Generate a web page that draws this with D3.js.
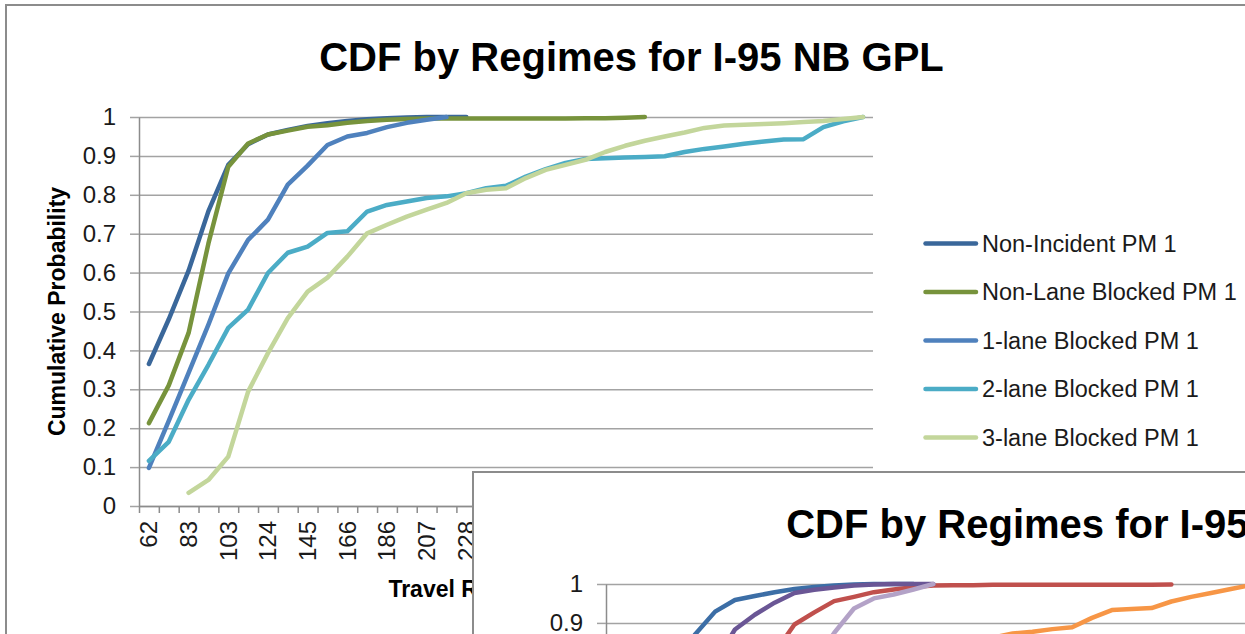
<!DOCTYPE html>
<html>
<head>
<meta charset="utf-8">
<script src="https://cdn.jsdelivr.net/npm/d3@7"></script>
<style>
  html, body { margin: 0; padding: 0; background: #fff; }
  svg { display: block; }
</style>
</head>
<body>
<svg id="chart" width="1245" height="634"></svg>
<script>
// Travel rate categories (x axis)
const travelRates = [62, 72, 83, 93, 103, 114, 124, 134, 145, 155, 166, 176, 186, 197, 207, 217, 228, 238,
  248, 259, 269, 279, 290, 300, 310, 321, 331, 341, 352, 362, 373, 383, 393, 404, 414, 424, 435];

const yTickValues = [0, 0.1, 0.2, 0.3, 0.4, 0.5, 0.6, 0.7, 0.8, 0.9, 1];
const yTickLabels = ["0", "0.1", "0.2", "0.3", "0.4", "0.5", "0.6", "0.7", "0.8", "0.9", "1"];

// PM regimes
const pmNames = ["Non-Incident PM 1", "Non-Lane Blocked PM 1", "1-lane Blocked PM 1", "2-lane Blocked PM 1", "3-lane Blocked PM 1"];
const pmColors = ["#3A679A", "#77933C", "#4F81BD", "#4BACC6", "#C3D69B"];

const nonIncidentPM = [0.365, 0.48, 0.605, 0.758, 0.877, 0.93, 0.955, 0.967, 0.977, 0.984, 0.99, 0.994, 0.997, 0.999, 1, 1, 1];
const nonLaneBlockedPM = [0.213, 0.31, 0.445, 0.675, 0.872, 0.932, 0.955, 0.965, 0.975, 0.979, 0.985, 0.99, 0.993,
  0.995, 0.996, 0.996, 0.996, 0.996, 0.996, 0.996, 0.996, 0.996, 0.997, 0.997, 0.998, 1];
const oneLaneBlockedPM = [0.098, 0.219, 0.342, 0.466, 0.598, 0.684, 0.736, 0.826, 0.875, 0.928, 0.95, 0.959, 0.974,
  0.985, 0.993, 1];
const twoLaneBlockedPM = [0.116, 0.165, 0.273, 0.363, 0.458, 0.505, 0.599, 0.651, 0.667, 0.702, 0.706, 0.757, 0.774,
  0.783, 0.792, 0.796, 0.804, 0.817, 0.823, 0.847, 0.866, 0.882, 0.892, 0.894, 0.896, 0.897, 0.899, 0.91, 0.918,
  0.924, 0.931, 0.937, 0.942, 0.943, 0.974, 0.989, 1];
const threeLaneBlockedPM = [null, null, 0.034, 0.067, 0.127, 0.294, 0.393, 0.483, 0.551, 0.587, 0.641, 0.701, 0.723,
  0.744, 0.762, 0.779, 0.804, 0.813, 0.817, 0.843, 0.864, 0.877, 0.89, 0.91, 0.926, 0.939, 0.95, 0.96, 0.972,
  0.978, 0.98, 0.982, 0.984, 0.987, 0.99, 0.995, 1];

// AM regimes (second chart)
const amNames = ["Non-Incident AM 1", "Non-Lane Blocked AM 1", "1-lane Blocked AM 1", "2-lane Blocked AM 1", "3-lane Blocked AM 1"];
const amColors = ["#3C6EA6", "#C0504D", "#6A5695", "#B3A2C7", "#F79646"];

const nonIncidentAM = [null, null, null, 0.80, 0.871, 0.929, 0.959, 0.969, 0.979, 0.987, 0.992, 0.996, 0.999, 1, 1, 1];
const nonLaneBlockedAM = [null, null, null, null, null, null, null, null, 0.823, 0.896, 0.927, 0.956, 0.967, 0.979,
  0.986, 0.992, 0.996, 0.997, 0.997, 0.998, 0.998, 0.998, 0.998, 0.998, 0.998, 0.998, 0.998, 0.998, 0.999];
const oneLaneBlockedAM = [null, null, null, null, null, 0.80, 0.883, 0.921, 0.952, 0.977, 0.985, 0.991, 0.996,
  0.999, 1, 1, 1];
const twoLaneBlockedAM = [null, null, null, null, null, null, null, null, null, null, 0.80, 0.874, 0.937, 0.963,
  0.973, 0.986, 1];
const threeLaneBlockedAM = [null, null, null, null, null, null, null, null, null, null, null, null, null, null,
  null, null, null, null, null, 0.862, 0.873, 0.877, 0.884, 0.889, 0.913, 0.933, 0.936, 0.938, 0.955, 0.967,
  0.977, 0.987, 0.997, 1];

const FONT = "'Liberation Sans', Arial, sans-serif";
const TEXT = "#1a1a1a";
const plot = { left: 139, right: 873, top: 117, bottom: 506 };

function drawChart(root, o) {
  // chart frame
  root.append("rect")
    .attr("x", 6).attr("y", 5).attr("width", 1500).attr("height", 800)
    .attr("fill", "#fff").attr("stroke", "#8c8c8c").attr("stroke-width", 2);

  root.append("text")
    .attr("x", 631.5).attr("y", 71).attr("text-anchor", "middle")
    .attr("font-family", FONT).attr("font-weight", "bold").attr("font-size", 40)
    .attr("fill", "#000").text(o.title);

  const n = o.categories.length;
  const x = d3.scaleBand().domain(d3.range(n)).range([plot.left, plot.right]);
  const xEdge = d3.scaleLinear().domain([0, n]).range([plot.left, plot.right]);
  const y = d3.scaleLinear().domain([0, 1]).range([plot.bottom, plot.top]);
  const yLabel = new Map(yTickValues.map((v, i) => [v, yTickLabels[i]]));

  // horizontal gridlines
  root.append("g")
    .attr("transform", `translate(${plot.left},0)`)
    .call(d3.axisLeft(y).tickValues(yTickValues).tickSize(-(plot.right - plot.left)).tickFormat(""))
    .call(g => g.select(".domain").remove())
    .call(g => g.selectAll("line").attr("stroke", "#a3a3a3").attr("stroke-width", 1.5));

  // y axis tick marks
  root.append("g")
    .attr("transform", `translate(${plot.left},0)`)
    .call(d3.axisLeft(y).tickValues(yTickValues).tickSize(9).tickSizeOuter(0).tickFormat(""))
    .call(g => g.select(".domain").attr("stroke", "#8c8c8c").attr("stroke-width", 1.5))
    .call(g => g.selectAll("line").attr("stroke", "#a3a3a3").attr("stroke-width", 1.5));

  // y axis labels (only those inside the visible frame)
  root.append("g")
    .attr("transform", `translate(${plot.left},0)`)
    .call(d3.axisLeft(y).tickValues(o.yLabelValues).tickSize(9).tickPadding(14).tickFormat(d => yLabel.get(d)))
    .attr("font-family", FONT).attr("font-size", 24)
    .call(g => g.select(".domain").remove())
    .call(g => g.selectAll("line").remove())
    .call(g => g.selectAll("text").attr("fill", TEXT));

  // x axis: tick marks on category boundaries
  root.append("g")
    .attr("transform", `translate(0,${plot.bottom})`)
    .call(d3.axisBottom(xEdge).tickValues(d3.range(n + 1)).tickSize(7).tickSizeOuter(0).tickFormat(""))
    .call(g => g.select(".domain").attr("stroke", "#8c8c8c").attr("stroke-width", 1.5))
    .call(g => g.selectAll("line").attr("stroke", "#8c8c8c").attr("stroke-width", 1.5));

  // x axis labels on every second category, rotated
  if (o.xLabels) {
    root.append("g")
      .attr("transform", `translate(0,${plot.bottom})`)
      .call(d3.axisBottom(x).tickValues(x.domain().filter(i => i % 2 === 0)).tickSize(0)
        .tickFormat(i => o.categories[i]))
      .attr("font-family", FONT).attr("font-size", 24)
      .call(g => g.select(".domain").remove())
      .call(g => g.selectAll("text")
        .attr("transform", "rotate(-90)")
        .attr("x", -15).attr("y", 0).attr("dy", "0.35em")
        .attr("text-anchor", "end").attr("fill", TEXT));
  }

  // series
  const line = d3.line()
    .defined(d => d.v != null)
    .x(d => x(d.i) + x.bandwidth() / 2)
    .y(d => y(d.v));

  o.values.forEach((vals, k) => {
    root.append("path")
      .datum(vals.map((v, i) => ({ i, v })))
      .attr("d", line)
      .attr("fill", "none")
      .attr("stroke", o.colors[k])
      .attr("stroke-width", 4.5)
      .attr("stroke-linejoin", "round")
      .attr("stroke-linecap", "round");
  });

  if (o.axisTitles) {
    root.append("text")
      .attr("transform", `translate(65,${(plot.top + plot.bottom) / 2}) rotate(-90)`)
      .attr("text-anchor", "middle")
      .attr("font-family", FONT).attr("font-weight", "bold").attr("font-size", 23)
      .attr("fill", "#000").text("Cumulative Probability");
    root.append("text")
      .attr("x", (plot.left + plot.right) / 2).attr("y", 597)
      .attr("text-anchor", "middle")
      .attr("font-family", FONT).attr("font-weight", "bold").attr("font-size", 23)
      .attr("fill", "#000").text("Travel Rate (sec/mile)");
  }

  if (o.legend) {
    const lg = root.append("g");
    o.names.forEach((name, k) => {
      const row = lg.append("g").attr("transform", `translate(0,${243.5 + 48.5 * k})`);
      row.append("line")
        .attr("x1", 925.5).attr("x2", 976).attr("y1", 0).attr("y2", 0)
        .attr("stroke", o.colors[k]).attr("stroke-width", 4.5).attr("stroke-linecap", "round");
      row.append("text")
        .attr("x", 982).attr("y", 0).attr("dy", "0.35em")
        .attr("font-family", FONT).attr("font-size", 23.5)
        .attr("fill", TEXT).text(name);
    });
  }
}

const svg = d3.select("#chart");
svg.append("rect").attr("width", 1245).attr("height", 634).attr("fill", "#fff");

drawChart(svg.append("g"), {
  title: "CDF by Regimes for I-95 NB GPL",
  categories: travelRates,
  names: pmNames,
  colors: pmColors,
  values: [nonIncidentPM, nonLaneBlockedPM, oneLaneBlockedPM, twoLaneBlockedPM, threeLaneBlockedPM],
  yLabelValues: yTickValues,
  legend: true,
  xLabels: true,
  axisTitles: true
});

drawChart(svg.append("g").attr("transform", "translate(467,467)"), {
  title: "CDF by Regimes for I-95 NB GPL",
  categories: travelRates,
  names: amNames,
  colors: amColors,
  values: [nonIncidentAM, nonLaneBlockedAM, oneLaneBlockedAM, twoLaneBlockedAM, threeLaneBlockedAM],
  yLabelValues: [0.9, 1],
  legend: false,
  xLabels: false,
  axisTitles: false
});
</script>
</body>
</html>
